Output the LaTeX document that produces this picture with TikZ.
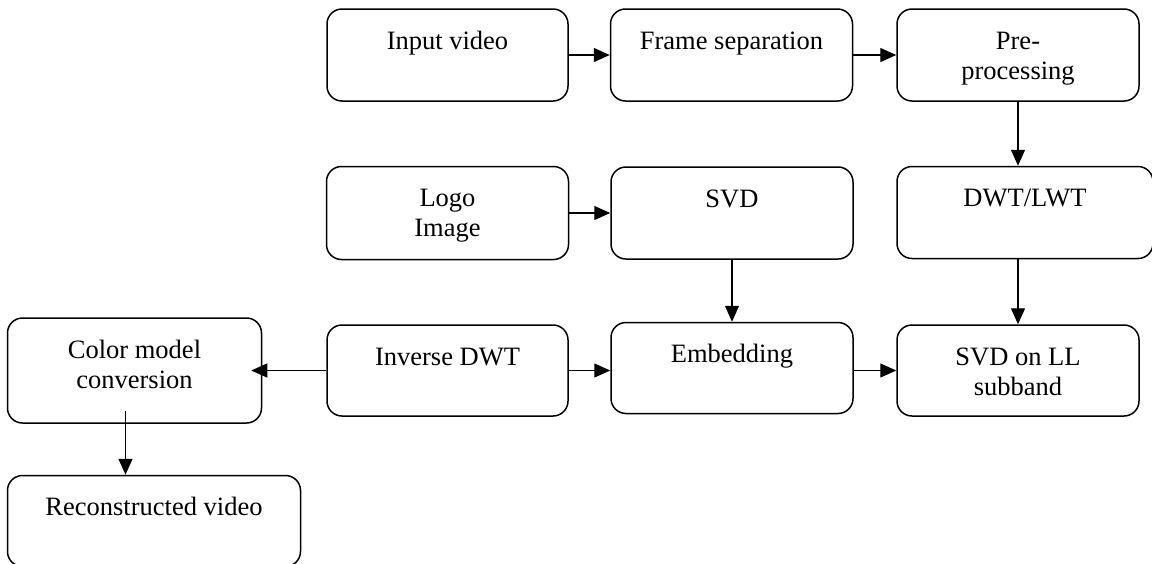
\documentclass[tikz,border=0pt]{standalone}
\usepackage{fontspec}
\setmainfont{Liberation Serif}
\usetikzlibrary{arrows.meta,positioning}

\newcommand{\boxtext}[3]{\parbox[c][#2][t]{#1}{\centering\rule{0pt}{40pt}#3}}

\begin{document}
\begin{tikzpicture}[x=1pt, y=-1pt, font=\fontsize{26.5}{30}\selectfont,
  procbox/.style={draw, rounded corners=15pt, line width=1.5pt, inner sep=0pt},
  flow/.style={-{Triangle[length=16pt,width=14pt]}, line width=1.3pt}]
  \useasboundingbox (0,0) rectangle (1152,563);
  % top row
  \node[procbox] (input) at (447.5,55) {\boxtext{241pt}{92pt}{Input video}};
  \node[procbox, right=41pt of input] (frame) {\boxtext{242pt}{92pt}{Frame separation}};
  \node[procbox, right=43pt of frame] (pre) {\boxtext{242pt}{92pt}{Pre-\\processing}};
  % middle row
  \node[procbox, below=64pt of input] (logo) {\boxtext{242pt}{93pt}{Logo\\Image}};
  \node[procbox, right=41pt of logo] (svd) {\boxtext{242pt}{92pt}{SVD}};
  \node[procbox, below=64pt of pre.south west, anchor=north west] (dwt) {\boxtext{256pt}{92pt}{DWT/LWT}};
  % bottom row
  \node[procbox, below=64pt of logo] (inv) {\boxtext{241pt}{91pt}{Inverse DWT}};
  \node[procbox, below=62pt of svd] (embed) {\boxtext{242pt}{91pt}{Embedding}};
  \node[procbox, below=65pt of dwt.south west, anchor=north west] (svdll) {\boxtext{242pt}{91pt}{SVD on LL\\subband}};
  \node[procbox, left=64pt of inv] (color) {\boxtext{254pt}{105pt}{Color model\\conversion}};
  \node[procbox, below=51pt of color.south west, anchor=north west] (recon) {\boxtext{293pt}{91pt}{Reconstructed video}};

  \draw[flow] (input.east) -- (frame.west);
  \draw[flow] (frame.east) -- (pre.west);
  \draw[flow] (pre.south) -- (pre.south |- dwt.north);
  \draw[flow] (svdll.north |- dwt.south) -- (svdll.north);
  \draw[flow] (logo.east) -- (svd.west);
  \draw[flow] (svd.south) -- (embed.north);
  \draw[flow] (inv.east) -- (inv.east -| embed.west);
  \draw[flow] (embed.east |- svdll.west) -- (svdll.west);
  \draw[flow, shorten >=-11pt] (inv.west) -- (inv.west -| color.east);
  \draw[flow, shorten <=-13pt] ([xshift=-9pt]color.south) -- ([xshift=-9pt]color.south |- recon.north);
\end{tikzpicture}
\end{document}
